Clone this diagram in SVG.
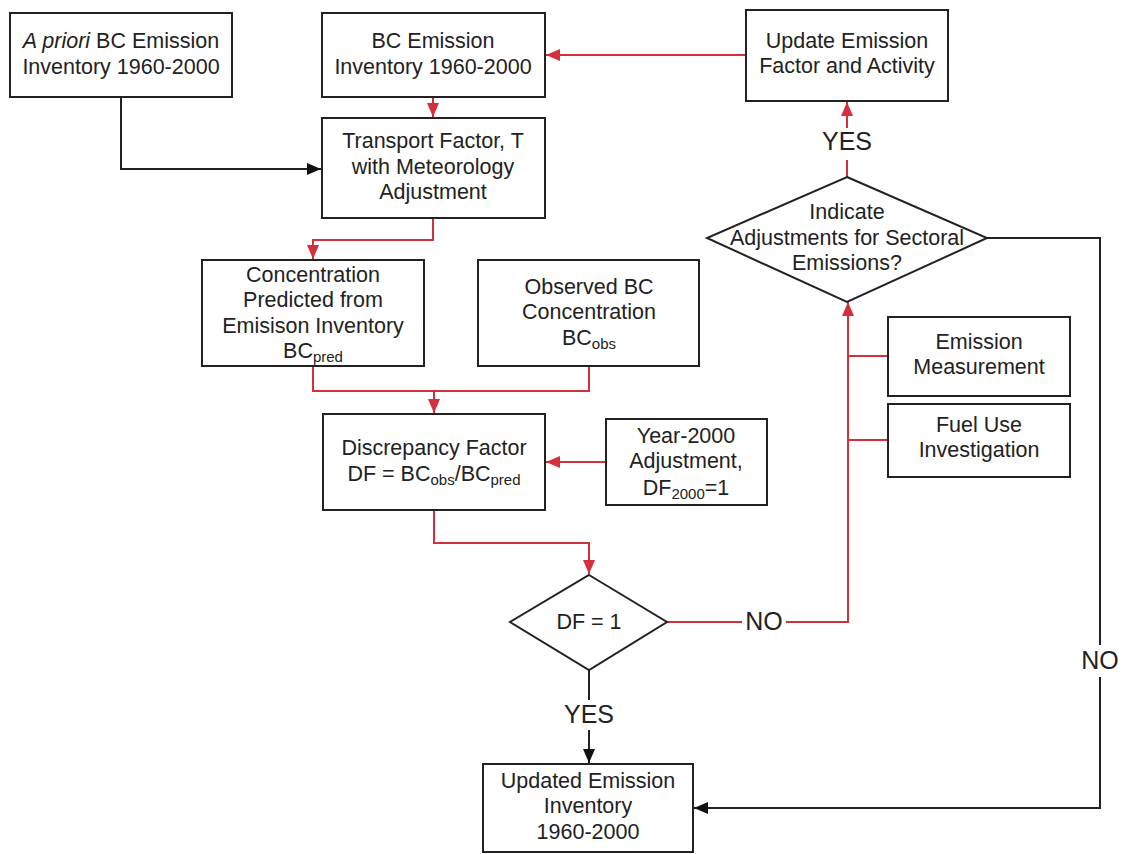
<svg xmlns="http://www.w3.org/2000/svg" width="1124" height="854" viewBox="0 0 1124 854">
<style>
.box{fill:#fff;stroke:#222;stroke-width:2}
text{font-family:"Liberation Sans",Arial,sans-serif;font-size:21.5px;fill:#222;text-anchor:middle}
.lbl{font-size:25px}
.red{fill:none;stroke:#d32f3c;stroke-width:2}
.blk{fill:none;stroke:#222;stroke-width:2}
.sub{font-size:15px}
</style>
<defs>
<marker id="ar" viewBox="0 0 14 12" refX="14" refY="6" markerWidth="14" markerHeight="12" markerUnits="userSpaceOnUse" orient="auto"><path d="M0,0 L14,6 L0,12 z" fill="#d32f3c"/></marker>
<marker id="ab" viewBox="0 0 14 12" refX="14" refY="6" markerWidth="14" markerHeight="12" markerUnits="userSpaceOnUse" orient="auto"><path d="M0,0 L14,6 L0,12 z" fill="#111"/></marker>
</defs>
<rect width="1124" height="854" fill="#fff"/>
<g id="connectors">
<path class="blk" d="M121,97 V169 H321" marker-end="url(#ab)"/>
<path class="red" d="M433,97 V117" marker-end="url(#ar)"/>
<path class="red" d="M746,55 H546" marker-end="url(#ar)"/>
<path class="red" d="M433,218 V240 H313 V259" marker-end="url(#ar)"/>
<path class="red" d="M313,366 V391 H589 V366"/>
<path class="red" d="M434,391 V413" marker-end="url(#ar)"/>
<path class="red" d="M606,462 H546" marker-end="url(#ar)"/>
<path class="red" d="M434,510 V543 H589 V574" marker-end="url(#ar)"/>
<path class="red" d="M667,622 H848 V302" marker-end="url(#ar)"/>
<path class="red" d="M888,356 H848 M888,440 H848"/>
<path class="red" d="M847,177 V102" marker-end="url(#ar)"/>
<path class="blk" d="M987,238 H1100 V808 H694" marker-end="url(#ab)"/>
<path class="blk" d="M589,670 V763" marker-end="url(#ab)"/>
<rect x="820" y="128" width="54" height="32" fill="#fff"/>
<text class="lbl" x="847" y="150">YES</text>
<rect x="742" y="606" width="44" height="32" fill="#fff"/>
<text class="lbl" x="764" y="630">NO</text>
<rect x="1078" y="645" width="44" height="32" fill="#fff"/>
<text class="lbl" x="1100" y="669">NO</text>
<rect x="562" y="700" width="54" height="30" fill="#fff"/>
<text class="lbl" x="589" y="723">YES</text>
</g>
<g id="apriori">
<rect class="box" x="10" y="13" width="222" height="84"/>
<text x="121" y="48"><tspan font-style="italic">A priori</tspan> BC Emission</text>
<text x="121" y="74">Inventory 1960-2000</text>
</g>
<g id="bc-inventory">
<rect class="box" x="322" y="13" width="223" height="84"/>
<text x="433" y="48">BC Emission</text>
<text x="433" y="74">Inventory 1960-2000</text>
</g>
<g id="update-factor">
<rect class="box" x="746" y="10" width="202" height="91"/>
<text x="847" y="48">Update Emission</text>
<text x="847" y="73">Factor and Activity</text>
</g>
<g id="transport">
<rect class="box" x="322" y="118" width="223" height="100"/>
<text x="433" y="148">Transport Factor, T</text>
<text x="433" y="174">with Meteorology</text>
<text x="433" y="199">Adjustment</text>
</g>
<g id="predicted">
<rect class="box" x="202" y="260" width="222" height="106"/>
<text x="313" y="282">Concentration</text>
<text x="313" y="307">Predicted from</text>
<text x="313" y="333">Emisison Inventory</text>
<text x="313" y="358">BC<tspan class="sub" dy="4">pred</tspan></text>
</g>
<g id="observed">
<rect class="box" x="478" y="260" width="221" height="106"/>
<text x="589" y="294">Observed BC</text>
<text x="589" y="319">Concentration</text>
<text x="589" y="345">BC<tspan class="sub" dy="4">obs</tspan></text>
</g>
<g id="discrepancy">
<rect class="box" x="323" y="414" width="222" height="96"/>
<text x="434" y="455">Discrepancy Factor</text>
<text x="434" y="481">DF = BC<tspan class="sub" dy="4">obs</tspan><tspan dy="-4">/BC</tspan><tspan class="sub" dy="4">pred</tspan></text>
</g>
<g id="year2000">
<rect class="box" x="606" y="419" width="161" height="86"/>
<text x="686" y="443">Year-2000</text>
<text x="686" y="468">Adjustment,</text>
<text x="686" y="495">DF<tspan class="sub" dy="4">2000</tspan><tspan dy="-4">=1</tspan></text>
</g>
<g id="df-decision">
<polygon class="box" points="589,575 667,622 589,670 510,622"/>
<text x="589" y="629">DF = 1</text>
</g>
<g id="indicate">
<polygon class="box" points="847,177 987,238 847,302 707,238"/>
<text x="847" y="219">Indicate</text>
<text x="847" y="245">Adjustments for Sectoral</text>
<text x="847" y="270">Emissions?</text>
</g>
<g id="emission-measurement">
<rect class="box" x="888" y="317" width="182" height="79"/>
<text x="979" y="349">Emission</text>
<text x="979" y="374">Measurement</text>
</g>
<g id="fuel-use">
<rect class="box" x="888" y="404" width="182" height="73"/>
<text x="979" y="432">Fuel Use</text>
<text x="979" y="457">Investigation</text>
</g>
<g id="updated-inventory">
<rect class="box" x="483" y="764" width="210" height="88"/>
<text x="588" y="788">Updated Emission</text>
<text x="588" y="813">Inventory</text>
<text x="588" y="839">1960-2000</text>
</g>
</svg>
